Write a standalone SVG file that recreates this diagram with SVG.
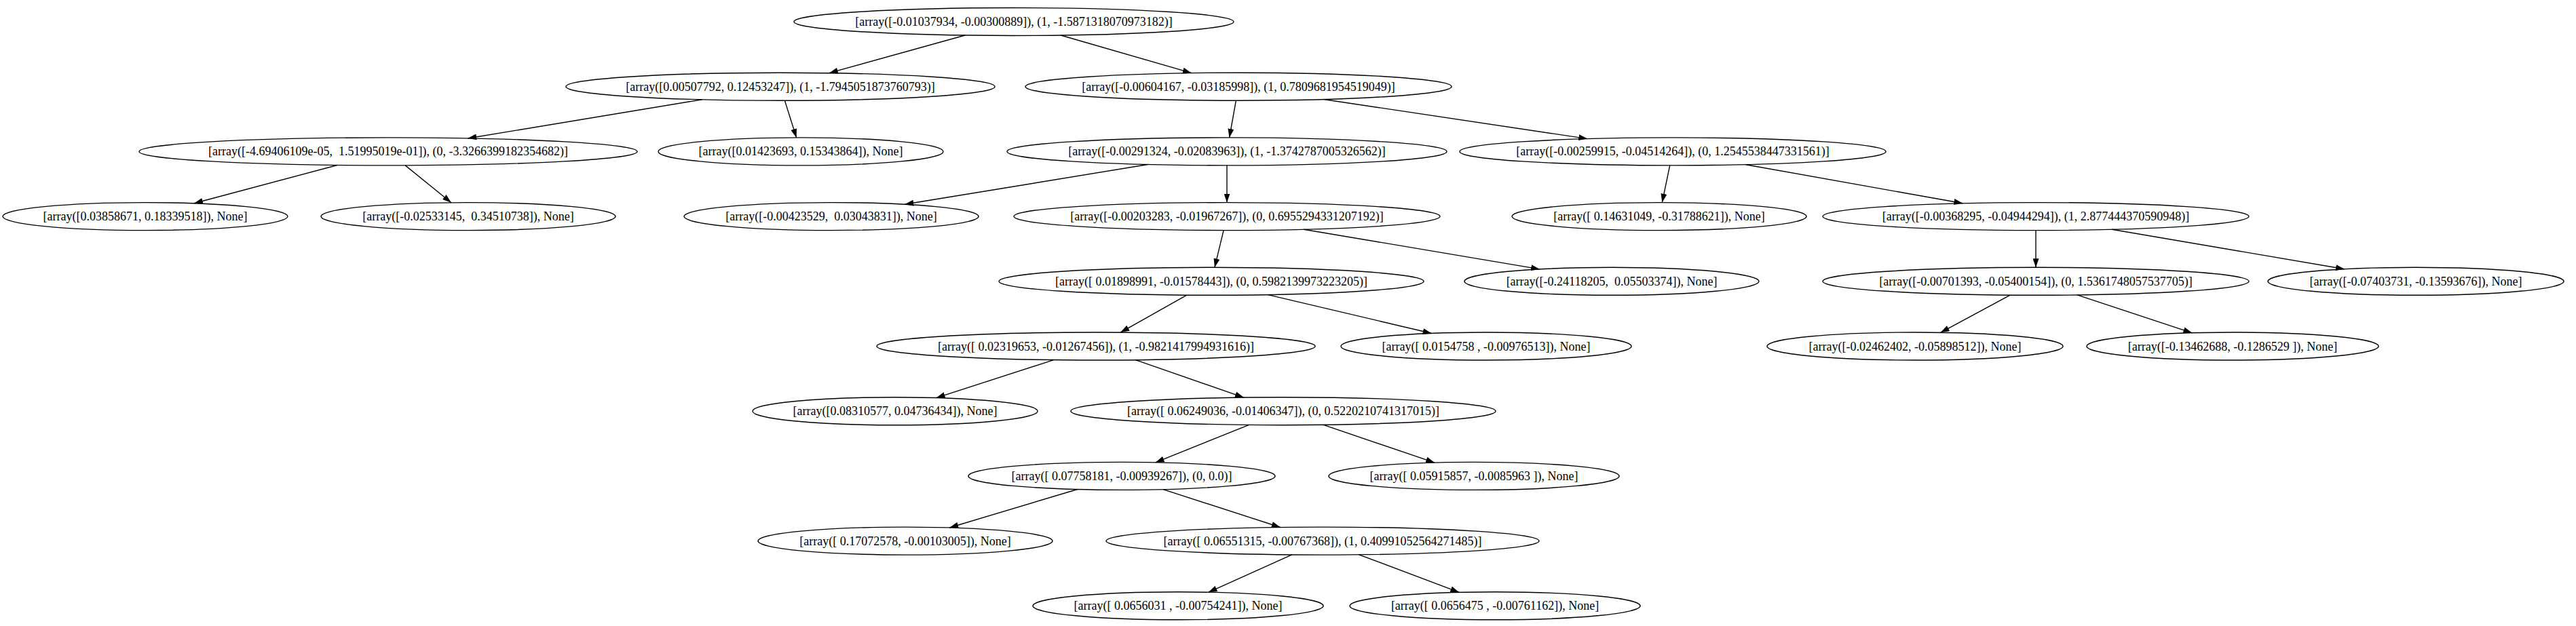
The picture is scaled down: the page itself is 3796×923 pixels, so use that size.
<svg xmlns="http://www.w3.org/2000/svg" width="3796" height="923" viewBox="0 0 3796 923" xml:space="preserve">
<style>
.n ellipse{fill:none;stroke:#000;stroke-width:1.4}
.n text{font-family:"Liberation Serif","Times New Roman",serif;font-size:18px;text-anchor:middle;fill:#000;white-space:pre}
#edges line{stroke:#000;stroke-width:1.4;marker-end:url(#arr)}
</style>
<defs>
<marker id="arr" viewBox="0 0 13 9" refX="13" refY="4.5" markerWidth="13" markerHeight="9" markerUnits="userSpaceOnUse" orient="auto"><path d="M0,0 L13,4.5 L0,9 z" fill="#000"/></marker>
</defs>
<rect width="3796" height="923" fill="#fff"/>
<g id="edges">
<line x1="1422.1" y1="52" x2="1221.8" y2="107.7"/>
<line x1="1563.3" y1="52" x2="1755.8" y2="107.7"/>
<line x1="1034.7" y1="146.8" x2="689.3" y2="204"/>
<line x1="1156.4" y1="148.2" x2="1173.6" y2="202.9"/>
<line x1="1821.4" y1="148.2" x2="1811.6" y2="202.9"/>
<line x1="1950.7" y1="146.5" x2="2339.3" y2="204.6"/>
<line x1="496.9" y1="243.5" x2="286" y2="299.8"/>
<line x1="597.2" y1="243.9" x2="664.9" y2="298.7"/>
<line x1="1691.5" y1="242.5" x2="1333.3" y2="301.3"/>
<line x1="1808" y1="243.9" x2="1808" y2="298.6"/>
<line x1="2460.7" y1="243.9" x2="2449.3" y2="298.6"/>
<line x1="2572.7" y1="242.7" x2="2892.3" y2="299.8"/>
<line x1="1803.1" y1="339.6" x2="1789.9" y2="394.3"/>
<line x1="1921.2" y1="338.2" x2="2269" y2="396.9"/>
<line x1="3000" y1="339.6" x2="3000" y2="394.3"/>
<line x1="3112.1" y1="338.2" x2="3454.9" y2="396.8"/>
<line x1="1748.8" y1="435.2" x2="1651.2" y2="490.1"/>
<line x1="1868.6" y1="434.6" x2="2109.6" y2="491.5"/>
<line x1="2962.1" y1="435.2" x2="2859.6" y2="490.3"/>
<line x1="3061" y1="434.9" x2="3230.3" y2="490.8"/>
<line x1="1552.8" y1="530.6" x2="1379.7" y2="586.6"/>
<line x1="1673.2" y1="530.7" x2="1832.9" y2="586.1"/>
<line x1="1840.7" y1="626.4" x2="1702.7" y2="681.9"/>
<line x1="1950.1" y1="626.3" x2="2114.1" y2="682.2"/>
<line x1="1587.6" y1="721.5" x2="1399.2" y2="778"/>
<line x1="1714.1" y1="721.6" x2="1886.8" y2="777.5"/>
<line x1="1903.8" y1="817.9" x2="1780.6" y2="873.3"/>
<line x1="2002.6" y1="817.8" x2="2150.3" y2="873.4"/>
</g>
<g id="n0" class="n"><ellipse cx="1494" cy="32" rx="324" ry="20.5"/><text x="1494" y="38">[array([-0.01037934, -0.00300889]), (1, -1.5871318070973182)]</text></g>
<g id="n1" class="n"><ellipse cx="1150" cy="127.7" rx="316" ry="20.5"/><text x="1150" y="133.7">[array([0.00507792, 0.12453247]), (1, -1.7945051873760793)]</text></g>
<g id="n2" class="n"><ellipse cx="1825" cy="127.7" rx="314" ry="20.5"/><text x="1825" y="133.7">[array([-0.00604167, -0.03185998]), (1, 0.7809681954519049)]</text></g>
<g id="n3" class="n"><ellipse cx="572" cy="223.4" rx="367" ry="20.5"/><text x="572" y="229.4">[array([-4.69406109e-05,  1.51995019e-01]), (0, -3.3266399182354682)]</text></g>
<g id="n4" class="n"><ellipse cx="1180" cy="223.4" rx="210" ry="20.5"/><text x="1180" y="229.4">[array([0.01423693, 0.15343864]), None]</text></g>
<g id="n5" class="n"><ellipse cx="1808" cy="223.4" rx="324" ry="20.5"/><text x="1808" y="229.4">[array([-0.00291324, -0.02083963]), (1, -1.3742787005326562)]</text></g>
<g id="n6" class="n"><ellipse cx="2465" cy="223.4" rx="314" ry="20.5"/><text x="2465" y="229.4">[array([-0.00259915, -0.04514264]), (0, 1.2545538447331561)]</text></g>
<g id="n7" class="n"><ellipse cx="214" cy="319.1" rx="210" ry="20.5"/><text x="214" y="325.1">[array([0.03858671, 0.18339518]), None]</text></g>
<g id="n8" class="n"><ellipse cx="690" cy="319.1" rx="217" ry="20.5"/><text x="690" y="325.1">[array([-0.02533145,  0.34510738]), None]</text></g>
<g id="n9" class="n"><ellipse cx="1225" cy="319.1" rx="217" ry="20.5"/><text x="1225" y="325.1">[array([-0.00423529,  0.03043831]), None]</text></g>
<g id="n10" class="n"><ellipse cx="1808" cy="319.1" rx="314" ry="20.5"/><text x="1808" y="325.1">[array([-0.00203283, -0.01967267]), (0, 0.6955294331207192)]</text></g>
<g id="n11" class="n"><ellipse cx="2445" cy="319.1" rx="217" ry="20.5"/><text x="2445" y="325.1">[array([ 0.14631049, -0.31788621]), None]</text></g>
<g id="n12" class="n"><ellipse cx="3000" cy="319.1" rx="314" ry="20.5"/><text x="3000" y="325.1">[array([-0.00368295, -0.04944294]), (1, 2.877444370590948)]</text></g>
<g id="n13" class="n"><ellipse cx="1785" cy="414.8" rx="313" ry="20.5"/><text x="1785" y="420.8">[array([ 0.01898991, -0.01578443]), (0, 0.5982139973223205)]</text></g>
<g id="n14" class="n"><ellipse cx="2375" cy="414.8" rx="217" ry="20.5"/><text x="2375" y="420.8">[array([-0.24118205,  0.05503374]), None]</text></g>
<g id="n15" class="n"><ellipse cx="3000" cy="414.8" rx="314" ry="20.5"/><text x="3000" y="420.8">[array([-0.00701393, -0.05400154]), (0, 1.5361748057537705)]</text></g>
<g id="n16" class="n"><ellipse cx="3560" cy="414.8" rx="218" ry="20.5"/><text x="3560" y="420.8">[array([-0.07403731, -0.13593676]), None]</text></g>
<g id="n17" class="n"><ellipse cx="1615" cy="510.5" rx="323" ry="20.5"/><text x="1615" y="516.5">[array([ 0.02319653, -0.01267456]), (1, -0.9821417994931616)]</text></g>
<g id="n18" class="n"><ellipse cx="2190" cy="510.5" rx="214" ry="20.5"/><text x="2190" y="516.5">[array([ 0.0154758 , -0.00976513]), None]</text></g>
<g id="n19" class="n"><ellipse cx="2822" cy="510.5" rx="218" ry="20.5"/><text x="2822" y="516.5">[array([-0.02462402, -0.05898512]), None]</text></g>
<g id="n20" class="n"><ellipse cx="3290" cy="510.5" rx="215" ry="20.5"/><text x="3290" y="516.5">[array([-0.13462688, -0.1286529 ]), None]</text></g>
<g id="n21" class="n"><ellipse cx="1319" cy="606.2" rx="210" ry="20.5"/><text x="1319" y="612.2">[array([0.08310577, 0.04736434]), None]</text></g>
<g id="n22" class="n"><ellipse cx="1891" cy="606.2" rx="313" ry="20.5"/><text x="1891" y="612.2">[array([ 0.06249036, -0.01406347]), (0, 0.5220210741317015)]</text></g>
<g id="n23" class="n"><ellipse cx="1653" cy="701.9" rx="226" ry="20.5"/><text x="1653" y="707.9">[array([ 0.07758181, -0.00939267]), (0, 0.0)]</text></g>
<g id="n24" class="n"><ellipse cx="2172" cy="701.9" rx="214" ry="20.5"/><text x="2172" y="707.9">[array([ 0.05915857, -0.0085963 ]), None]</text></g>
<g id="n25" class="n"><ellipse cx="1334" cy="797.6" rx="217" ry="20.5"/><text x="1334" y="803.6">[array([ 0.17072578, -0.00103005]), None]</text></g>
<g id="n26" class="n"><ellipse cx="1949" cy="797.6" rx="319" ry="20.5"/><text x="1949" y="803.6">[array([ 0.06551315, -0.00767368]), (1, 0.40991052564271485)]</text></g>
<g id="n27" class="n"><ellipse cx="1736" cy="893.3" rx="214" ry="20.5"/><text x="1736" y="899.3">[array([ 0.0656031 , -0.00754241]), None]</text></g>
<g id="n28" class="n"><ellipse cx="2203" cy="893.3" rx="214" ry="20.5"/><text x="2203" y="899.3">[array([ 0.0656475 , -0.00761162]), None]</text></g>
</svg>
